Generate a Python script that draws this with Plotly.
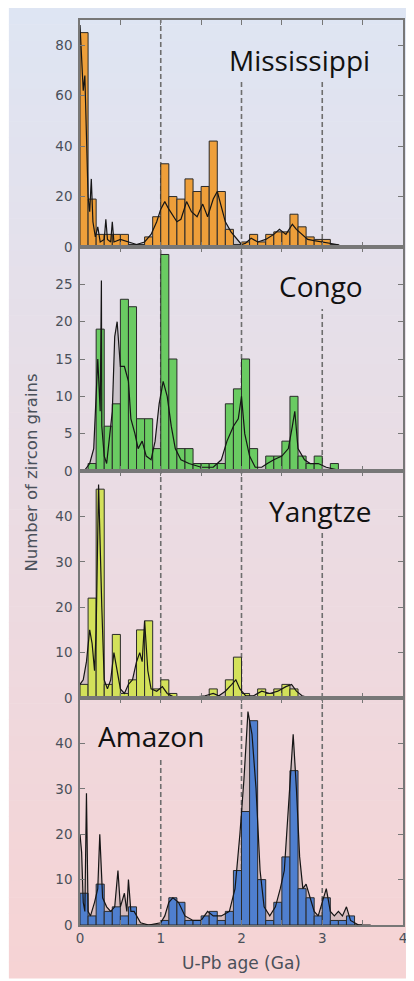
import plotly.graph_objects as go

# histogram bins (Ga), 0.1 wide, left edges
bin_start = [0.0, 0.1, 0.2, 0.3, 0.4, 0.5, 0.6, 0.7, 0.8, 0.9,
             1.0, 1.1, 1.2, 1.3, 1.4, 1.5, 1.6, 1.7, 1.8, 1.9,
             2.0, 2.1, 2.2, 2.3, 2.4, 2.5, 2.6, 2.7, 2.8, 2.9,
             3.0, 3.1, 3.2, 3.3, 3.4]

mississippi_counts = [85, 19, 5, 5, 5, 5, 1, 1, 4, 12,
                      33, 20, 19, 27, 22, 24, 42, 22, 7, 1,
                      2, 5, 2, 5, 6, 6, 13, 8, 4, 3,
                      3, 1, 0, 0, 0]
congo_counts = [0, 1, 19, 6, 9, 23, 22, 7, 7, 3,
                29, 15, 3, 3, 1, 1, 1, 1, 9, 11,
                15, 3, 0, 2, 2, 4, 10, 2, 1, 2,
                0, 1, 0, 0, 0]
yangtze_counts = [3, 22, 46, 3, 14, 1, 4, 15, 17, 2,
                  4, 1, 0, 0, 0, 0, 2, 0, 4, 9,
                  1, 0, 2, 1, 2, 3, 2, 0, 0, 0,
                  0, 0, 0, 0, 0]
amazon_counts = [7, 2, 9, 3, 4, 2, 4, 0, 0, 0,
                 1, 6, 5, 1, 1, 2, 3, 1, 3, 12,
                 25, 45, 10, 1, 5, 15, 34, 8, 6, 2,
                 6, 1, 1, 2, 0]

# probability density curves
mississippi_pdf_age = [0.0, 0.02, 0.04, 0.06, 0.08, 0.1, 0.12, 0.14, 0.16, 0.19, 0.22, 0.25, 0.3, 0.32,
                       0.34, 0.38, 0.4, 0.42, 0.5, 0.6, 0.7, 0.8, 0.88, 0.95, 1.0, 1.05, 1.1, 1.2, 1.25,
                       1.32, 1.38, 1.45, 1.52, 1.58, 1.65, 1.7, 1.75, 1.8, 1.87, 1.95, 2.0, 2.05, 2.12,
                       2.2, 2.3, 2.4, 2.47, 2.55, 2.63, 2.68, 2.75, 2.82, 2.9, 3.0, 3.1, 3.18, 3.25, 3.35]
mississippi_pdf_n = [88, 75, 62, 68, 45, 20, 14, 27, 10, 4, 8, 2, 3, 11,
                     3, 2, 10, 2, 3, 2, 1, 2, 5, 10, 15, 18, 15, 10, 11,
                     18, 14, 12, 17, 12, 19, 22, 16, 10, 6, 3, 1, 1.5, 3.5,
                     2, 3, 5, 7, 5, 9, 7, 5, 3, 2.5, 2, 1.5, 1, 0.3, 0]

congo_pdf_age = [0.05, 0.12, 0.17, 0.2, 0.22, 0.25, 0.265, 0.27, 0.3, 0.33, 0.36, 0.4, 0.43, 0.46,
                 0.5, 0.55, 0.6, 0.63, 0.68, 0.72, 0.77, 0.82, 0.88, 0.93, 0.98, 1.03, 1.08, 1.13,
                 1.18, 1.25, 1.35, 1.5, 1.65, 1.75, 1.82, 1.9, 1.96, 2.0, 2.04, 2.1, 2.17, 2.25,
                 2.32, 2.4, 2.5, 2.58, 2.63, 2.66, 2.7, 2.78, 2.85, 2.95, 3.05, 3.15, 3.25]
congo_pdf_n = [0, 1, 3, 10, 15, 8, 25.5, 6, 2, 1, 4, 8, 18, 20,
               14, 14, 12, 7, 5, 3, 4, 2, 1.5, 4, 9, 12, 10, 6,
               3, 1.5, 1, 0.5, 0.5, 1.5, 4, 6, 7, 10, 5, 2, 0.5, 0.5,
               1, 1.5, 2, 3, 6, 8, 3, 1.5, 1, 1, 0.5, 0.3, 0]

yangtze_pdf_age = [0.0, 0.04, 0.08, 0.12, 0.15, 0.18, 0.2, 0.23, 0.27, 0.3, 0.34, 0.38, 0.42, 0.46,
                   0.5, 0.55, 0.6, 0.65, 0.7, 0.74, 0.77, 0.8, 0.84, 0.88, 0.95, 1.02, 1.08, 1.15,
                   1.3, 1.55, 1.65, 1.72, 1.8, 1.88, 1.93, 1.98, 2.05, 2.15, 2.25, 2.35, 2.45, 2.55,
                   2.62, 2.68, 2.75, 2.85]
yangtze_pdf_n = [3, 4, 8, 15, 12, 6, 15, 47, 20, 4, 2, 4, 10, 6,
                 2, 1, 3, 4, 8, 10, 8, 17, 6, 2, 1.5, 2.5, 1, 0.3,
                 0, 0.5, 1, 0.5, 1.5, 3, 4, 2, 0.5, 0.5, 1.5, 1, 1.5, 2.5,
                 3, 1.5, 0.5, 0]

amazon_pdf_age = [0.0, 0.02, 0.04, 0.06, 0.08, 0.1, 0.13, 0.18, 0.22, 0.245, 0.28, 0.33, 0.38, 0.43,
                  0.47, 0.5, 0.55, 0.58, 0.6, 0.63, 0.67, 0.7, 0.75, 0.85, 1.0, 1.05, 1.1, 1.15,
                  1.22, 1.3, 1.4, 1.5, 1.58, 1.65, 1.75, 1.85, 1.92, 1.98, 2.03, 2.08, 2.13, 2.18,
                  2.23, 2.28, 2.35, 2.42, 2.48, 2.53, 2.58, 2.64, 2.68, 2.72, 2.76, 2.8, 2.85, 2.9,
                  2.95, 3.0, 3.05, 3.1, 3.15, 3.2, 3.25, 3.3, 3.35, 3.45, 3.6]
amazon_pdf_n = [20, 16, 5, 3, 29, 3, 2, 5, 8, 20, 6, 4, 3, 4,
                12, 4, 7, 3, 10, 3, 3, 2, 0.5, 0, 0.5, 2, 5, 6,
                5, 2, 1, 1, 3, 2, 2, 3, 8, 20, 32, 47, 42, 30,
                12, 4, 2, 4, 8, 12, 25, 42, 30, 15, 8, 9, 6, 3,
                2, 5, 8, 3, 2, 3, 2, 4, 1, 0, 0]

river_names = ["Mississippi", "Congo", "Yangtze", "Amazon"]
y_max = [90, 30, 50, 50]
y_step = [20, 5, 10, 10]
y_top_tick = [80, 25, 40, 40]
x_tick_vals = [0, 0.5, 1, 1.5, 2, 2.5, 3, 3.5, 4]
x_tick_text = ["0", "", "1", "", "2", "", "3", "", "4"]

panels = [
    (mississippi_counts, mississippi_pdf_age, mississippi_pdf_n, "#EE9F3A"),
    (congo_counts, congo_pdf_age, congo_pdf_n, "#6ACB62"),
    (yangtze_counts, yangtze_pdf_age, yangtze_pdf_n, "#D3E15A"),
    (amazon_counts, amazon_pdf_age, amazon_pdf_n, "#4F7FCF"),
]

# the page puts the figure 8px in from the window corner, so lay it out
# in window pixels and shift back by that amount
OFF = 8
W, H = 414 - OFF, 981 - OFF
ML, MR, MT, MB = 80 - OFF, 7, 20 - OFF, 56
pw = W - ML - MR
ph = H - MT - MB


def py(p):
    return (H - MB - (p - OFF)) / ph


def px(p):
    return (p - OFF - ML) / pw


edges = [20, 247, 471, 698, 925]
axis_col = "#777777"
tick_font = dict(family="DejaVu Sans", size=13.5, color="#4a505a")

fig = go.Figure()
layout = {}
shapes = []

# gradient background
n_bands = 60
top_rgb = (222, 229, 243)
bot_rgb = (246, 211, 212)
y0p, y1p = 8, 978
for k in range(n_bands):
    t = (k + 0.5) / n_bands
    c = tuple(round(top_rgb[j] + (bot_rgb[j] - top_rgb[j]) * t) for j in range(3))
    a = y0p + (y1p - y0p) * k / n_bands
    b = y0p + (y1p - y0p) * (k + 1) / n_bands + 0.6
    shapes.append(dict(type="rect", xref="paper", yref="paper", x0=px(8), x1=px(410),
                       y0=py(b), y1=py(a), fillcolor="rgb(%d,%d,%d)" % c,
                       line=dict(width=0), layer="below"))

# dashed guide lines: (age, top value) per panel
guides = [
    [(1, 90), (2, 66), (3, 66)],
    [(1, 30), (2, 30), (3, 21.7)],
    [(1, 50), (2, 50), (3, 37)],
    [(1, 36.5), (2, 50), (3, 50)],
]

for i, (counts, pdf_age, pdf_n, col) in enumerate(panels, start=1):
    j = i + 4
    fig.add_trace(go.Scatter(x=pdf_age, y=pdf_n, mode="lines", fill="tozeroy",
                             fillcolor="rgba(90,90,90,0.2)", line=dict(width=0),
                             xaxis="x%d" % i, yaxis="y%d" % i, hoverinfo="skip"))
    fig.add_trace(go.Bar(x=bin_start, y=counts, width=0.1, offset=0,
                         marker=dict(color=col, line=dict(color="#2b2b2b", width=1)),
                         xaxis="x%d" % j, yaxis="y%d" % j))
    fig.add_trace(go.Scatter(x=pdf_age, y=pdf_n, mode="lines",
                             line=dict(color="#151515", width=1.2),
                             xaxis="x%d" % j, yaxis="y%d" % j))

    dom = [py(edges[i]), py(edges[i - 1])]
    layout["xaxis%d" % i] = dict(domain=[0, 1], anchor="y%d" % i, range=[0, 4],
                                 tickvals=x_tick_vals, ticktext=x_tick_text,
                                 ticks="inside", ticklen=5, tickwidth=1.3, tickcolor=axis_col,
                                 showline=True, linecolor=axis_col, linewidth=1.5, mirror="ticks",
                                 showgrid=False, zeroline=False, showticklabels=(i == 4),
                                 tickfont=tick_font)
    layout["yaxis%d" % i] = dict(domain=dom, anchor="x%d" % i, range=[0, y_max[i - 1]],
                                 tickvals=list(range(0, y_top_tick[i - 1] + 1, y_step[i - 1])),
                                 ticks="inside", ticklen=5, tickwidth=1.3, tickcolor=axis_col,
                                 showline=True, linecolor=axis_col, linewidth=1.5, mirror="ticks",
                                 showgrid=False, zeroline=False, tickfont=tick_font,
                                 ticklabelstandoff=3)
    layout["xaxis%d" % j] = dict(overlaying="x%d" % i, anchor="y%d" % j, range=[0, 4], visible=False)
    layout["yaxis%d" % j] = dict(overlaying="y%d" % i, anchor="x%d" % j,
                                 range=[0, y_max[i - 1]], visible=False)

    for age, top in guides[i - 1]:
        shapes.append(dict(type="line", xref="x%d" % i, yref="y%d" % i, x0=age, x1=age,
                           y0=0, y1=top, layer="below",
                           line=dict(color="#6e6e6e", width=1.6, dash="5px,3px")))

name_font = dict(family="Open Sans", size=28, color="#111111")
annotations = [
    dict(text="Mississippi", xref="paper", yref="paper", x=px(376), y=py(60),
         xanchor="right", yanchor="middle", showarrow=False, font=name_font),
    dict(text="Congo", xref="paper", yref="paper", x=px(369), y=py(286),
         xanchor="right", yanchor="middle", showarrow=False, font=name_font),
    dict(text="Yangtze", xref="paper", yref="paper", x=px(377), y=py(511),
         xanchor="right", yanchor="middle", showarrow=False, font=name_font),
    dict(text="Amazon", xref="paper", yref="paper", x=px(96), y=py(736),
         xanchor="left", yanchor="middle", showarrow=False, font=name_font),
    dict(text="Number of zircon grains", xref="paper", yref="paper", x=px(30), y=py(473),
         xanchor="center", yanchor="middle", textangle=-90, showarrow=False,
         font=dict(family="DejaVu Sans", size=16.5, color="#4a505a")),
    dict(text="U-Pb age (Ga)", xref="paper", yref="paper", x=px(243.5), y=py(963),
         xanchor="center", yanchor="middle", showarrow=False,
         font=dict(family="DejaVu Sans", size=17, color="#4a505a")),
]

fig.update_layout(**layout)
fig.update_layout(width=W, height=H, margin=dict(l=ML, r=MR, t=MT, b=MB),
                  paper_bgcolor="white", plot_bgcolor="rgba(0,0,0,0)",
                  showlegend=False, shapes=shapes, annotations=annotations,
                  barmode="overlay")

fig.write_html("out.html")
